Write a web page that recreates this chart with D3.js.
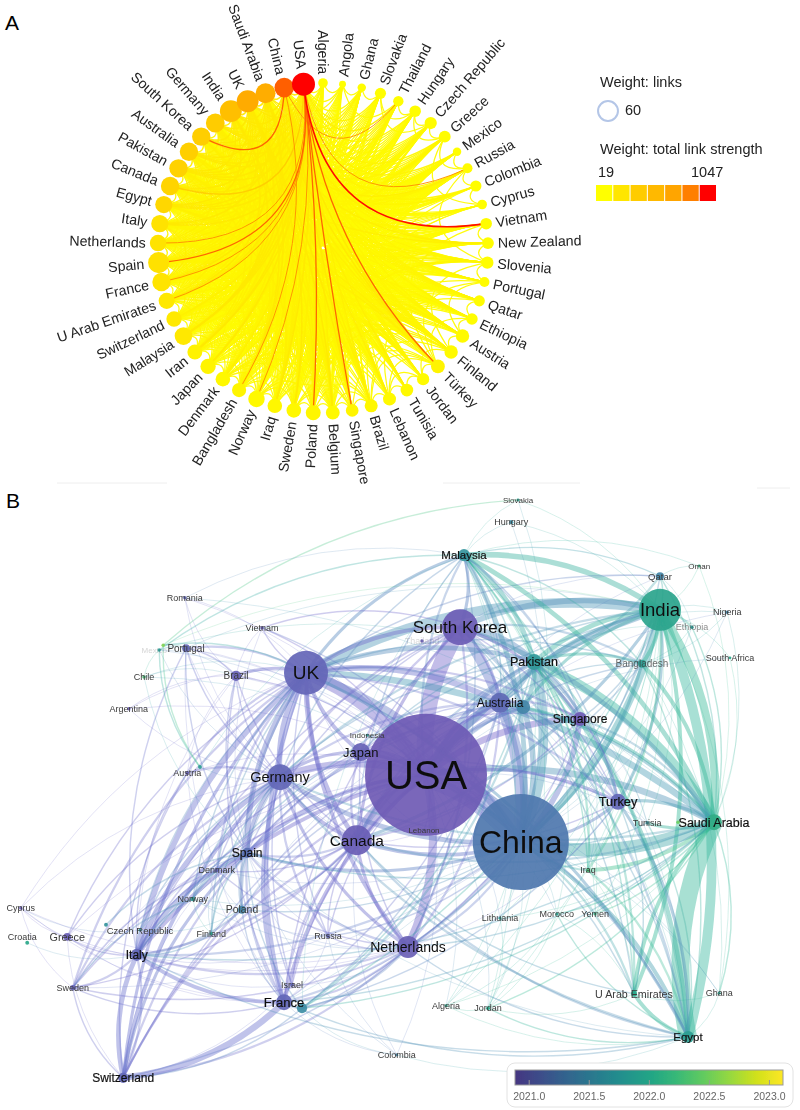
<!DOCTYPE html>
<html>
<head>
<meta charset="utf-8">
<script src="https://cdnjs.cloudflare.com/ajax/libs/d3/7.8.5/d3.min.js"></script>
<style>
  body { margin: 0; background: #fff; }
  svg { display: block; font-family: "Liberation Sans", Arial, sans-serif; }
</style>
</head>
<body>
<div id="chart"></div>
<script>
// Panel A: circular map
const countriesA = ["Algeria","Angola","Ghana","Slovakia","Thailand","Hungary","Czech Republic","Greece","Mexico","Russia",
  "Colombia","Cyprus","Vietnam","New Zealand","Slovenia","Portugal","Qatar","Ethiopia","Austria","Finland",
  "Türkey","Jordan","Tunisia","Lebanon","Brazil","Singapore","Belgium","Poland","Sweden","Iraq",
  "Norway","Bangladesh","Denmark","Japan","Iran","Malaysia","Switzerland","U Arab Emirates","France","Spain",
  "Netherlands","Italy","Egypt","Canada","Pakistan","Australia","South Korea","Germany","India","UK",
  "Saudi Arabia","China","USA"];
const linksCountA = [25,18,22,29,27,30,32,31,22,26, 29,25,30,31,32,26,29,30,35,35, 36,32,33,34,34,33,36,39,38,38,
  43,37,38,40,39,46,40,42,48,55, 43,45,45,48,48,48,48,49,57,57, 52,51,60];
const strengthA = [25,19,30,32,36,31,40,38,26,45, 33,28,42,36,34,40,38,30,52,50, 95,48,60,58,75,88,60,80,70,72,
  62,85,70,95,105,180,170,175,205,220, 210,215,290,310,320,340,350,360,480,650, 640,920,1047];
const legendRampA = ["#ffff00","#ffe600","#ffcc00","#ffb900","#ffa500","#ff7f00","#ff0000"];

// link weight class per hub, one digit per country in countriesA order
const hubsA = ["USA","China","Saudi Arabia","UK","India","Germany","South Korea","Australia","Pakistan","Canada",
  "Egypt","Italy","Netherlands","Spain","France","U Arab Emirates","Switzerland","Malaysia","Iran","Japan",
  "Denmark","Bangladesh","Norway","Iraq","Sweden","Poland","Belgium","Singapore","Türkey","Lebanon","Brazil"];
const hubRowsA = [
  "1112321227 2192122122 8212383834 7333443778 7445444444 440",
  "1111711112 1132112112 4121242323 2724442333 3344448444 400",
  "1021111111 1111112211 4232121213 1312241423 2343434344 000",
  "1121212213 2113212122 3213344343 3423342343 3434444440 400",
  "1111211111 1011122111 3122122212 1412342422 2242434304 400",
  "0111112111 1101112122 2011322322 2212112333 3322232034 334",
  "1111211112 1021111111 2111123112 1312321222 2222330233 344",
  "1111211112 0113211112 2101122212 2212321222 3223302223 244",
  "1120110111 0101012110 3211111113 1311321322 2132033234 444",
  "1111111112 1111211112 2112212222 2221212222 2220222323 334",
  "1121101111 1011011211 3221111113 1211121221 2102221222 433",
  "0011011211 1101111122 1101212221 2121012232 2021112123 222",
  "0011111211 1011111122 1011112222 2121011222 0111222122 111",
  "1011011111 1111211122 1111222221 2212121220 2111112233 233",
  "1101110111 1011111112 1111212211 1211112102 1211112233 222",
  "1110001011 0101001100 1211111112 0201120011 1121121113 312",
  "0000111211 0010111112 1100112121 1111010111 1211111111 112",
  "1111211011 1111011101 1211111011 0202101111 1111212112 222",
  "1010100111 0011001011 1110011211 1111012011 1111211112 212",
  "0010100111 0011011012 1001101110 0112110011 1111111222 123",
  "0000110111 0011101121 0000102220 2111001011 1101011221 012",
  "1110100001 0010001100 1111010001 1011110101 1011110121 211",
  "0001011111 0011101111 0000101221 0010001011 1111101111 112",
  "1110000000 0000001100 1101010000 0101110111 0011110111 211",
  "0001011011 0101101112 0000111000 2111000111 1101011111 111",
  "0001111111 0111201112 0000101010 1011010111 1101111111 112",
  "0000011111 0010101111 1000100101 1111010111 2110111111 111",
  "0001100000 0010000000 1000101000 0000210000 0001111111 111",
  "0100000000 0010010100 0101100001 1101110111 1011211111 311",
  "0000000001 0000001000 1110100001 0000110011 1011100001 111",
  "0000000011 1000010001 0000000100 0000011011 1000100011 011"
];
const smallPairsA = [["Algeria","Angola"],["Angola","Ghana"],["Ghana","Slovakia"],["Slovakia","Hungary"],["Thailand","Hungary"],
  ["Hungary","Czech Republic"],["Czech Republic","Greece"],["Mexico","Russia"],["Russia","Colombia"],["Colombia","Cyprus"],
  ["Vietnam","New Zealand"],["New Zealand","Slovenia"],["Slovenia","Portugal"],["Qatar","Ethiopia"],["Ethiopia","Austria"],
  ["Austria","Finland"],["Finland","Jordan"],["Jordan","Tunisia"],["Greece","Russia"],["Greece","Cyprus"],["Portugal","Austria"],
  ["Slovenia","Finland"],["Angola","Thailand"],["Slovakia","Czech Republic"],["Russia","Slovenia"],["Hungary","Greece"]];

// Panel B: overlay map, x and y are map units
const namesB = ["USA","China","UK","South Korea","India","Germany","Canada","Netherlands","Japan","Australia",
  "Iran","Pakistan","Malaysia","Singapore","Turkey","Saudi Arabia","Egypt","U Arab Emirates","Bangladesh","Qatar",
  "Oman","Ethiopia","Nigeria","South Africa","Slovakia","Hungary","Romania","Vietnam","Portugal","Mexico",
  "New Zealand","Chile","Brazil","Argentina","Austria","Slovenia","Indonesia","Spain","Denmark","Norway",
  "Poland","Cyprus","Czech Republic","Belgium","Finland","Russia","Croatia","Greece","Italy","Sweden",
  "Israel","France","Ireland","Colombia","Switzerland","Lebanon","Lithuania","Morocco","Yemen","Iraq",
  "Tunisia","Ghana","Algeria","Jordan","Angola","Thailand"];
const mapXB = [53.25,65.1,38.25,57.5,82.5,35,44.6,51,45.1,62.5,
  65.4,66.75,58,72.5,77.25,89.25,86,79.25,80.25,82.5,
  87.4,86.5,90.9,91.25,64.75,63.9,23.1,32.75,23.25,19.9,
  20.4,18,29.5,16.1,23.4,25,45.9,30.9,27.1,24.1,
  30.25,2.6,17.5,13.25,26.4,41,3.4,8.4,17.1,9.1,
  36.5,35.5,37.75,49.6,15.4,53,62.5,69.6,74.4,73.5,
  80.9,89.9,55.75,61,84.75,52.75];
const mapYB = [54.2,43,71.2,78.8,81.7,53.8,43.3,25.5,58,66.2,
  65.5,73,90.8,63.5,49.7,46.3,10.5,17.7,72.7,87.3,
  89,78.8,81.3,73.7,100,96.3,83.7,78.7,75.3,75,
  75.8,70.5,70.7,65.2,54.5,55.5,60.8,41.2,38.3,33.5,
  31.7,32,28.3,29.2,27.7,27.3,26.2,27.2,24.2,18.7,
  19.2,16.3,15.3,7.5,3.7,45,30.3,31,31,38.3,
  46.2,17.8,15.7,15.3,46.3,76.5];
const docsB = [1000,620,130,87,118,45,60,32,22,27,
  13,17,10,13,17,17,10,2.4,4.3,4.3,
  .6,.8,.8,.5,.6,1.2,.8,.8,4,.8,
  .8,.8,7,.8,1,1,.6,7,1.2,1.5,
  4.3,.8,.6,1,.8,1,1,4,10,2,
  1.2,17,7,.6,7,.6,.6,.6,.6,1,
  .8,.6,.6,1,.8,.8];
const yearsB = [2020.85,2021.3,2020.98,2020.88,2021.95,2021,2020.9,2020.92,2020.95,2021.05,
  2021.5,2021.75,2021.7,2020.85,2021,2022.05,2021.85,2022,2021.85,2021.5,
  2022.1,2021.8,2021.5,2022,2021.9,2021.6,2021,2020.9,2021,2021.8,
  2022.5,2022.2,2020.95,2020.9,2020.95,2021.8,2021.8,2021.15,2021,2021.8,
  2021.5,2020.9,2021.7,2021.7,2021.9,2021,2022,2020.9,2021,2020.95,
  2021,2021,2021.6,2021.5,2021,2020.9,2021.8,2021.9,2022.1,2022.2,
  2021.7,2021.9,2022,2022,2022.4,2020.9];
const legendTicksB = [2021,2021.5,2022,2022.5,2023];

// [source, target, link strength, optional -1 when the arc bends towards the middle]
const linksB = [
  ["USA","China",30],["USA","UK",16],["USA","South Korea",20],["USA","Canada",16],["USA","Germany",9],["USA","Japan",9],["USA","Australia",12],["USA","India",9],["USA","Saudi Arabia",8],["USA","Netherlands",10],
  ["USA","France",5],["USA","Italy",5],["USA","Switzerland",3],["USA","Spain",5],["USA","Singapore",8],["USA","Pakistan",6],["USA","Turkey",4],["USA","Egypt",3],["USA","Malaysia",3],["USA","Brazil",2],
  ["USA","Portugal",1],["USA","Iran",6],["USA","Bangladesh",2],["USA","Russia",2],["USA","Sweden",2],["USA","Denmark",2],["USA","Norway",1],["USA","Poland",2],["USA","Israel",2],["USA","Greece",1],
  ["USA","Vietnam",2],["USA","Mexico",1],["USA","Chile",1],["USA","Argentina",1],["USA","Austria",1],["USA","Romania",1],["USA","Lebanon",2],["USA","Indonesia",2],["USA","Colombia",1],["USA","U Arab Emirates",2],
  ["USA","Iraq",1],["USA","Qatar",1],["USA","Algeria",1],["USA","Jordan",1],["USA","Tunisia",1],["USA","Lithuania",1],["USA","Morocco",1],["USA","Ghana",1],["USA","Nigeria",1],["USA","South Africa",1],
  ["China","UK",10],["China","South Korea",12],["China","Canada",5],["China","Germany",6],["China","Japan",4],["China","Australia",10],["China","India",9],["China","Saudi Arabia",16],["China","Netherlands",3],["China","France",3],
  ["China","Italy",3],["China","Spain",4],["China","Singapore",7],["China","Pakistan",12],["China","Turkey",4],["China","Egypt",5],["China","Malaysia",6],["China","Iran",7],["China","Bangladesh",4],["China","Iraq",3],
  ["China","U Arab Emirates",3],["China","Qatar",2],["China","Tunisia",2],["China","Yemen",1],["China","Morocco",1],["China","Lithuania",1],["China","Russia",2],["China","Sweden",1],["China","Switzerland",2],["China","Denmark",1],
  ["China","Norway",1],["China","Poland",2],["China","Hungary",1],["China","Slovakia",1],["China","Vietnam",2],["China","Brazil",1],["China","Ethiopia",1],["China","Nigeria",1],["China","Ghana",1],["China","Jordan",1],
  ["China","Algeria",1],["China","Lebanon",1],["China","Portugal",1],
  ["UK","Germany",7],["UK","South Korea",5],["UK","India",12],["UK","Saudi Arabia",8],["UK","Italy",7],["UK","Netherlands",5],["UK","France",5],["UK","Switzerland",4],["UK","Spain",7],["UK","Canada",6],
  ["UK","Japan",5],["UK","Australia",7],["UK","Malaysia",4],["UK","Pakistan",6],["UK","Egypt",4],["UK","Sweden",3],["UK","Greece",2],["UK","Portugal",3],["UK","Brazil",4],["UK","Vietnam",2],
  ["UK","Romania",1],["UK","Poland",3],["UK","Denmark",3],["UK","Norway",2],["UK","Finland",2],["UK","Czech Republic",2],["UK","Russia",2],["UK","Austria",3],["UK","Singapore",3],["UK","Turkey",3],
  ["UK","Cyprus",1],["UK","Bangladesh",2],["UK","Iran",3],["UK","Chile",1],["UK","Argentina",1],["UK","Israel",2],["UK","Lebanon",1],["UK","Qatar",2],
  ["South Korea","Germany",3],["South Korea","Canada",4],["South Korea","Japan",3],["South Korea","Australia",4],["South Korea","India",7],["South Korea","Saudi Arabia",6],["South Korea","Pakistan",9],["South Korea","Malaysia",4],["South Korea","Singapore",4],["South Korea","Netherlands",3],
  ["South Korea","Turkey",2],["South Korea","Egypt",3],["South Korea","Iran",3],["South Korea","Bangladesh",3],["South Korea","France",2],["South Korea","Italy",2],["South Korea","Spain",2],["South Korea","U Arab Emirates",2],["South Korea","Qatar",1],["South Korea","Vietnam",2],
  ["India","Saudi Arabia",10],["India","Egypt",12],["India","Pakistan",6],["India","Malaysia",7],["India","Australia",5],["India","Germany",3],["India","Canada",4],["India","Singapore",2],["India","Bangladesh",5],["India","Qatar",2],
  ["India","Ethiopia",3],["India","Oman",1],["India","Nigeria",1],["India","South Africa",1],["India","U Arab Emirates",5],["India","Turkey",4],["India","Iraq",3],["India","Yemen",1],["India","Tunisia",1],["India","Iran",4],
  ["India","Ghana",1],["India","Jordan",1],["India","Morocco",1],["India","Lithuania",1],["India","Slovakia",1],["India","Hungary",1],["India","Portugal",1],["India","Algeria",1],["India","Japan",2],["India","France",1],
  ["India","Italy",2],["India","Netherlands",2],
  ["Saudi Arabia","Egypt",22,-1],["Saudi Arabia","Pakistan",12],["Saudi Arabia","Malaysia",6],["Saudi Arabia","Australia",4],["Saudi Arabia","Turkey",4],["Saudi Arabia","Bangladesh",5],["Saudi Arabia","U Arab Emirates",5,-1],["Saudi Arabia","Iraq",5],["Saudi Arabia","Tunisia",4],["Saudi Arabia","Qatar",2],
  ["Saudi Arabia","Ghana",2],["Saudi Arabia","Singapore",3],["Saudi Arabia","Germany",3],["Saudi Arabia","Canada",3],["Saudi Arabia","Iran",4],["Saudi Arabia","Italy",2],["Saudi Arabia","Netherlands",2],["Saudi Arabia","France",2],["Saudi Arabia","Spain",2],["Saudi Arabia","Jordan",2],
  ["Saudi Arabia","Morocco",2],["Saudi Arabia","Yemen",2],["Saudi Arabia","Algeria",1],["Saudi Arabia","Lithuania",1],["Saudi Arabia","Ethiopia",2],["Saudi Arabia","Nigeria",1],["Saudi Arabia","South Africa",1],["Saudi Arabia","Oman",1],["Saudi Arabia","Angola",1],
  ["Egypt","Pakistan",5],["Egypt","Malaysia",3],["Egypt","Turkey",4],["Egypt","U Arab Emirates",5],["Egypt","Iraq",3],["Egypt","Ghana",1],["Egypt","Canada",3],["Egypt","Germany",3],["Egypt","Netherlands",2],["Egypt","Jordan",2],
  ["Egypt","Morocco",2],["Egypt","Colombia",1],["Egypt","France",2],["Egypt","Italy",2],["Egypt","Spain",1],["Egypt","Australia",2],["Egypt","Bangladesh",2],["Egypt","Tunisia",2],["Egypt","Singapore",1],["Egypt","Iran",1],["Egypt","Algeria",1],
  ["Germany","Netherlands",4],["Germany","France",5],["Germany","Italy",6],["Germany","Switzerland",5],["Germany","Spain",5],["Germany","Canada",5],["Germany","Japan",4],["Germany","Poland",3],["Germany","Denmark",2],["Germany","Austria",3],
  ["Germany","Sweden",3],["Germany","Australia",3],["Germany","Pakistan",2],["Germany","Russia",3],["Germany","Greece",2],["Germany","Norway",2],["Germany","Czech Republic",2],["Germany","Finland",2],["Germany","Portugal",2],["Germany","Brazil",2],
  ["Germany","Israel",2],["Germany","Malaysia",2],["Germany","Turkey",2],
  ["Canada","Netherlands",4],["Canada","France",3],["Canada","Italy",3],["Canada","Switzerland",3],["Canada","Spain",3],["Canada","Australia",4],["Canada","Japan",3],["Canada","Pakistan",3],["Canada","Russia",2],["Canada","Lebanon",1],
  ["Canada","Brazil",2],["Canada","Poland",2],["Canada","Sweden",2],["Canada","Denmark",2],["Canada","Singapore",2],["Canada","Turkey",2],["Canada","Iran",3],["Canada","Malaysia",2],["Canada","Israel",2],["Canada","Colombia",1],
  ["Canada","Bangladesh",2],["Canada","U Arab Emirates",2],["Canada","Portugal",1],
  ["Netherlands","France",3],["Netherlands","Italy",3],["Netherlands","Switzerland",3],["Netherlands","Spain",3],["Netherlands","Australia",3],["Netherlands","Russia",2],["Netherlands","Japan",2],["Netherlands","Sweden",2],["Netherlands","Poland",1],["Netherlands","Denmark",2],
  ["Netherlands","Norway",1],["Netherlands","Greece",1],["Netherlands","Singapore",2],["Netherlands","Turkey",1],["Netherlands","Malaysia",2],["Netherlands","Ireland",3],["Netherlands","Israel",1],
  ["France","Italy",5],["France","Switzerland",8],["France","Spain",3],["France","Israel",2],["France","Greece",1],["France","Sweden",2],["France","Poland",2],["France","Russia",1],["France","Colombia",1],["France","Ireland",3],
  ["France","Portugal",1],["France","Austria",1],["France","Australia",2],["France","Brazil",2],
  ["Italy","Switzerland",6],["Italy","Switzerland",3,-1],["Italy","Spain",6],["Italy","Poland",3],["Italy","Sweden",3],["Italy","Greece",2],["Italy","Czech Republic",2],["Italy","Cyprus",1],["Italy","Norway",2],["Italy","Denmark",2],
  ["Italy","Finland",2],["Italy","Russia",1],["Italy","Austria",2],["Italy","Croatia",1],["Italy","Japan",2],["Italy","Brazil",1],["Italy","Australia",2],["Italy","Portugal",2],["Italy","Israel",1],
  ["Switzerland","Spain",4],["Switzerland","Japan",3],["Switzerland","Sweden",2],["Switzerland","Ireland",2],["Switzerland","Austria",2],["Switzerland","Greece",1],["Switzerland","Australia",2],["Switzerland","Israel",1],["Switzerland","Denmark",1],
  ["Pakistan","Malaysia",6],["Pakistan","Australia",5],["Pakistan","Singapore",3],["Pakistan","Turkey",4],["Pakistan","Bangladesh",4],["Pakistan","Iran",6],["Pakistan","U Arab Emirates",3],["Pakistan","Iraq",3],["Pakistan","Qatar",3,-1],["Pakistan","Tunisia",1],
  ["Pakistan","Jordan",1],["Pakistan","Morocco",1],["Pakistan","Yemen",1],["Pakistan","Ethiopia",1],["Pakistan","Nigeria",1],["Pakistan","Algeria",1],
  ["Malaysia","Australia",2],["Malaysia","Singapore",2],["Malaysia","Bangladesh",2],["Malaysia","Iran",2],["Malaysia","Qatar",2],["Malaysia","U Arab Emirates",2],["Malaysia","Turkey",2],["Malaysia","Iraq",2],["Malaysia","Slovakia",1],["Malaysia","Hungary",1],
  ["Malaysia","Oman",1],["Malaysia","Yemen",1],["Malaysia","Jordan",1],["Malaysia","Lithuania",1],
  ["Australia","Japan",2],["Australia","Singapore",3],["Australia","Iran",3],["Australia","Bangladesh",2],["Australia","Turkey",2],["Australia","Spain",2],["Australia","Poland",1],["Australia","Sweden",1],["Australia","Denmark",1],["Australia","Norway",1],["Australia","Lebanon",1],
  ["Singapore","Japan",2],["Singapore","Turkey",2],["Singapore","Tunisia",1],["Singapore","Iraq",1],
  ["Spain","Denmark",2],["Spain","Norway",2],["Spain","Poland",3],["Spain","Finland",2],["Spain","Portugal",2],["Spain","Brazil",2],["Spain","Czech Republic",1],["Spain","Russia",1],["Spain","Colombia",1],["Spain","Ireland",2],["Spain","Sweden",1],["Spain","Belgium",2],
  ["Denmark","Norway",3],["Denmark","Poland",1],["Denmark","Finland",1],["Denmark","Sweden",2],["Norway","Poland",1],["Norway","Finland",1],["Norway","Sweden",2],["Norway","Czech Republic",1],["Poland","Finland",1],["Poland","Russia",1],["Poland","Czech Republic",1],
  ["Cyprus","Greece",1],["Cyprus","Sweden",1],["Cyprus","Czech Republic",1],["Cyprus","Netherlands",1],["Cyprus","France",1],["Cyprus","Germany",1],
  ["Mexico","Portugal",1],["Mexico","Brazil",1],["Mexico","Chile",1],["Mexico","Slovenia",2],["Mexico","Germany",1],["Mexico","Pakistan",1],["Mexico","Malaysia",2],
  ["New Zealand","Slovakia",2],["New Zealand","Slovenia",2],["New Zealand","Portugal",1],["New Zealand","UK",2],["New Zealand","India",1],
  ["Brazil","Portugal",2],["Brazil","Romania",1],["Brazil","Vietnam",1],["Brazil","Chile",1],["Brazil","Argentina",1],
  ["Romania","Germany",1],["Romania","Malaysia",1],["Romania","Saudi Arabia",1],["Turkey","Iran",2],["Turkey","Tunisia",1],["Turkey","U Arab Emirates",2],
  ["Ghana","Bangladesh",1],["Qatar","Ethiopia",1],["Qatar","Oman",1],["Bangladesh","Ethiopia",1],["Bangladesh","Nigeria",1],["Colombia","Ireland",1],["Colombia","Russia",1],
  ["Lithuania","Jordan",1],["Jordan","Morocco",1],["U Arab Emirates","Jordan",1],["U Arab Emirates","Morocco",1],["U Arab Emirates","Iraq",1],["U Arab Emirates","Ghana",1],["Algeria","Morocco",1],["Algeria","Jordan",1],
  ["Ireland","Iran",3],["Ireland","Pakistan",2],["Ireland","India",2],["Ireland","Malaysia",1],["Ireland","Australia",2],["Ireland","Saudi Arabia",2],["Ireland","Turkey",2],
  ["Slovenia","Germany",1],["Slovenia","Malaysia",1],["Chile","Spain",1],["Argentina","Germany",1],["Austria","Brazil",1],["Vietnam","Spain",1]
];

const labelSizeB = {"USA":40,"China":32,"UK":19,"South Korea":17,"India":18.5,"Germany":14.5,"Canada":15.5,"Netherlands":14,"Japan":13,"Australia":12,
  "Pakistan":12.5,"Malaysia":11.5,"Singapore":12,"Turkey":12.8,"Saudi Arabia":12.5,"Egypt":11.5,"U Arab Emirates":10.7,"Bangladesh":10,"Qatar":9.5,"Oman":8,
  "Portugal":10,"Brazil":10,"Poland":10.4,"Greece":10.8,"Czech Republic":9.5,"Spain":12,"France":13,"Italy":12,"Switzerland":12,"Lebanon":8,"Indonesia":8,"Slovakia":8,"Mexico":8};
const heavyLabelsB = ["Spain","Pakistan","Malaysia","Italy","Switzerland","Egypt","Turkey","France","Singapore","Saudi Arabia"];
const fadedLabelsB = {"Mexico":.22,"Thailand":.2,"Ethiopia":.6,"Bangladesh":.75};
const hiddenLabelsB = ["Iran","New Zealand","Slovenia","Belgium","Ireland","Angola"];
const labelShiftB = {"Mexico":[-5,0],"Croatia":[-5,-6]};

// colours of the map marks, paler than the legend bar
const markYears = [2020.85,2021,2021.3,2021.6,2021.8,2022,2022.4,2023];
const nodeRamp = ["#6f5bb5","#6468b8","#5078ae","#3f8fa6","#2f9c96","#2ba88a","#6bcf5f","#fde725"];
const linkRamp = ["#7060c8","#6a70cc","#5a85c0","#45a3b0","#38b0a0","#2fb894","#70d880","#fde725"];

const width = 800;
const height = 1110;

const svg = d3.select("#chart").append("svg")
    .attr("width", width)
    .attr("height", height);

const defs = svg.append("defs");
defs.append("filter").attr("id", "soft").append("feGaussianBlur").attr("stdDeviation", 0.35);

// Panel letters
svg.append("text").attr("x", 5).attr("y", 30).attr("font-size", 21).text("A");
svg.append("text").attr("x", 6).attr("y", 508).attr("font-size", 21).text("B");

// ---- Panel A
const cxA = 323, cyA = 248, radiusA = 165;
const angleA = d3.scalePoint().domain(countriesA).range([0, 2 * Math.PI * (countriesA.length - 1) / countriesA.length]);
const rA = d3.scaleLinear().domain([0, 60]).range([0, 11.5]);
const rampA = d3.scaleLinear().domain(legendRampA.map((d, i) => i / (legendRampA.length - 1))).range(legendRampA);
const strengthScaleA = d3.scaleLinear().domain([19, 1047]).range([0, 1]);
const linkColorA = d3.scaleLinear().domain([1, 4, 6, 7, 9]).range([0.03, 0.14, 0.5, 0.75, 1]);
const linkWidthA = d3.scaleLinear().domain([1, 4, 7, 9]).range([1.25, 1.6, 1, 1.6]);

const pointA = (name, r = radiusA) => {
    const a = angleA(name);
    return [cxA + r * Math.sin(a), cyA - r * Math.cos(a)];
};

// Merge the hub rows into one link table
const linkMapA = new Map();
const addLinkA = (a, b, w) => {
    if (a === b || !w) return;
    const key = [a, b].sort().join("|");
    linkMapA.set(key, { a, b, w: Math.max(w, linkMapA.has(key) ? linkMapA.get(key).w : 0) });
};
hubsA.forEach((hub, i) => {
    const digits = hubRowsA[i].replace(/ /g, "");
    countriesA.forEach((c, j) => addLinkA(hub, c, +digits[j]));
});
smallPairsA.forEach(([a, b]) => addLinkA(a, b, 1));
const linksA = Array.from(linkMapA.values()).sort((p, q) => p.w - q.w);

const linkPathA = d => {
    let delta = Math.abs(angleA(d.a) - angleA(d.b));
    if (delta > Math.PI) delta = 2 * Math.PI - delta;
    // close neighbours make small scallops, distant ones pass by the centre
    const depth = Math.pow(Math.max(0, 1 - delta / (Math.PI / 2)), 1.5);
    const pa = pointA(d.a), pb = pointA(d.b);
    const mx = (pa[0] + pb[0]) / 2 - cxA, my = (pa[1] + pb[1]) / 2 - cyA;
    const len = Math.hypot(mx, my) || 1;
    const p = d3.path();
    p.moveTo(pa[0], pa[1]);
    p.quadraticCurveTo(cxA + mx / len * radiusA * depth, cyA + my / len * radiusA * depth, pb[0], pb[1]);
    return p.toString();
};

const panelA = svg.append("g").attr("filter", "url(#soft)");

panelA.append("g").selectAll("path")
    .data(linksA)
    .join("path")
    .attr("d", linkPathA)
    .attr("fill", "none")
    .attr("stroke", d => rampA(linkColorA(d.w)))
    .attr("stroke-width", d => linkWidthA(d.w))
    .attr("stroke-opacity", 0.95);

panelA.append("g").selectAll("circle")
    .data(countriesA)
    .join("circle")
    .attr("cx", d => pointA(d)[0])
    .attr("cy", d => pointA(d)[1])
    .attr("r", (d, i) => rA(linksCountA[i]))
    .attr("fill", (d, i) => rampA(strengthScaleA(strengthA[i])));

panelA.append("g").selectAll("text")
    .data(countriesA)
    .join("text")
    .attr("font-size", 14.2)
    .attr("fill", "#222")
    .attr("dy", "0.35em")
    .attr("text-anchor", d => angleA(d) > Math.PI || angleA(d) === 0 ? "end" : "start")
    .attr("transform", (d, i) => {
        const a = angleA(d);
        const p = pointA(d, radiusA + rA(linksCountA[i]) + 4);
        const deg = a * 180 / Math.PI;
        const rot = (deg > 180 || deg === 0) ? deg + 90 : deg - 90;
        return `translate(${p[0]},${p[1]}) rotate(${rot})`;
    })
    .text(d => d);

// Legend A
const legendA = svg.append("g").attr("filter", "url(#soft)").attr("font-size", 14.5).attr("fill", "#222");
legendA.append("text").attr("x", 600).attr("y", 87).text("Weight: links");
legendA.append("circle").attr("cx", 608).attr("cy", 111).attr("r", rA(52))
    .attr("fill", "none").attr("stroke", "#b4c6e7").attr("stroke-width", 2);
legendA.append("text").attr("x", 625).attr("y", 115).text("60");
legendA.append("text").attr("x", 600).attr("y", 154).text("Weight: total link strength");
legendA.append("text").attr("x", 598).attr("y", 177).text("19");
legendA.append("text").attr("x", 691).attr("y", 177).text("1047");
const swatchA = d3.scaleBand().domain(legendRampA).range([596, 716]).paddingInner(0.06);
legendA.selectAll("rect")
    .data(legendRampA)
    .join("rect")
    .attr("x", d => swatchA(d))
    .attr("y", 185)
    .attr("width", swatchA.bandwidth())
    .attr("height", 16)
    .attr("fill", d => d);

// faint scan lines left between the panels
svg.append("g").attr("stroke", "#eeeeee").selectAll("line")
    .data([[57, 167, 483], [443, 580, 483], [757, 790, 488]])
    .join("line")
    .attr("x1", d => d[0]).attr("x2", d => d[1])
    .attr("y1", d => d[2]).attr("y2", d => d[2]);

// ---- Panel B
const xB = d3.scaleLinear().domain([0, 100]).range([0, 800]);
const yB = d3.scaleLinear().domain([0, 100]).range([1100, 500]);
const rB = d3.scaleSqrt().domain([0, 1000]).range([0, 61]);
const colorB = d3.scaleSequential(d3.interpolateViridis).domain([2020.48, 2023.08]);
const nodeColorB = d3.scaleLinear().domain(markYears).range(nodeRamp);
const linkColorB = d3.scaleLinear().domain(markYears).range(linkRamp);
const widthB = d3.scaleLinear().domain([1, 22]).range([0.6, 18]);

const nodesB = namesB.map((name, i) => ({
    name, x: xB(mapXB[i]), y: yB(mapYB[i]), r: rB(docsB[i]), year: yearsB[i]
}));
const nodeByName = new Map(nodesB.map(d => [d.name, d]));
const centreB = [xB(53), yB(52)];

const linkPathB = ([s, t, , flip]) => {
    const a = nodeByName.get(s), b = nodeByName.get(t);
    const dx = b.x - a.x, dy = b.y - a.y, len = Math.hypot(dx, dy);
    const mx = (a.x + b.x) / 2, my = (a.y + b.y) / 2;
    let nx = -dy / len, ny = dx / len;
    // arcs bulge away from the middle of the map
    if (nx * (mx - centreB[0]) + ny * (my - centreB[1]) < 0) { nx = -nx; ny = -ny; }
    if (flip === -1) { nx = -nx; ny = -ny; }
    const p = d3.path();
    p.moveTo(a.x, a.y);
    p.quadraticCurveTo(mx + nx * len * 0.17, my + ny * len * 0.17, b.x, b.y);
    return p.toString();
};

const panelB = svg.append("g").attr("filter", "url(#soft)");

panelB.append("g").selectAll("path")
    .data(linksB.slice().sort((p, q) => q[2] - p[2]))
    .join("path")
    .attr("d", linkPathB)
    .attr("fill", "none")
    .attr("stroke", d => linkColorB((nodeByName.get(d[0]).year + nodeByName.get(d[1]).year) / 2))
    .attr("stroke-width", d => widthB(d[2]))
    .attr("stroke-opacity", d => d[2] > 3 ? 0.42 : 0.32);

panelB.append("g").selectAll("circle")
    .data(nodesB.slice().sort((p, q) => q.r - p.r))
    .join("circle")
    .attr("cx", d => d.x)
    .attr("cy", d => d.y)
    .attr("r", d => d.r)
    .attr("fill", d => nodeColorB(d.year))
    .attr("fill-opacity", 0.93);

panelB.append("g").selectAll("text")
    .data(nodesB.filter(d => !hiddenLabelsB.includes(d.name)))
    .join("text")
    .attr("x", d => d.x + (labelShiftB[d.name] ? labelShiftB[d.name][0] : 0))
    .attr("y", d => d.y + (labelShiftB[d.name] ? labelShiftB[d.name][1] : 0))
    .attr("dy", "0.35em")
    .attr("text-anchor", "middle")
    .attr("font-size", d => labelSizeB[d.name] || 9)
    .attr("fill", d => (labelSizeB[d.name] || 9) > 11 ? "#111" : "#3a3a3a")
    .attr("fill-opacity", d => fadedLabelsB[d.name] || 1)
    .attr("stroke", d => heavyLabelsB.includes(d.name) ? "#111" : "none")
    .attr("stroke-width", 0.2)
    .text(d => d.name);

// Legend B
const legendX = d3.scaleLinear().domain([2020.886, 2023.117]).range([515, 783]);
const gradient = defs.append("linearGradient").attr("id", "yearRamp");
d3.range(0, 1.01, 0.1).forEach(t => {
    gradient.append("stop")
        .attr("offset", t)
        .attr("stop-color", colorB(legendX.invert(515 + t * 268)));
});

const legendB = svg.append("g").attr("filter", "url(#soft)");
legendB.append("rect")
    .attr("x", 507).attr("y", 1063).attr("width", 286).attr("height", 44).attr("rx", 8)
    .attr("fill", "#fff").attr("stroke", "#e2e2e2");
legendB.append("rect")
    .attr("x", 515).attr("y", 1070).attr("width", 268).attr("height", 15)
    .attr("fill", "url(#yearRamp)").attr("stroke", "#999");

const axisB = legendB.append("g")
    .attr("transform", "translate(0,1085)")
    .call(d3.axisBottom(legendX).tickValues(legendTicksB).tickFormat(d3.format(".1f")).tickSize(-5).tickPadding(8));
axisB.select(".domain").remove();
axisB.selectAll("line").attr("stroke", "#999");
axisB.selectAll("text")
    .attr("font-size", 10.5)
    .attr("font-family", "\"Liberation Sans\", Arial, sans-serif")
    .attr("fill", "#666");
</script>
</body>
</html>
